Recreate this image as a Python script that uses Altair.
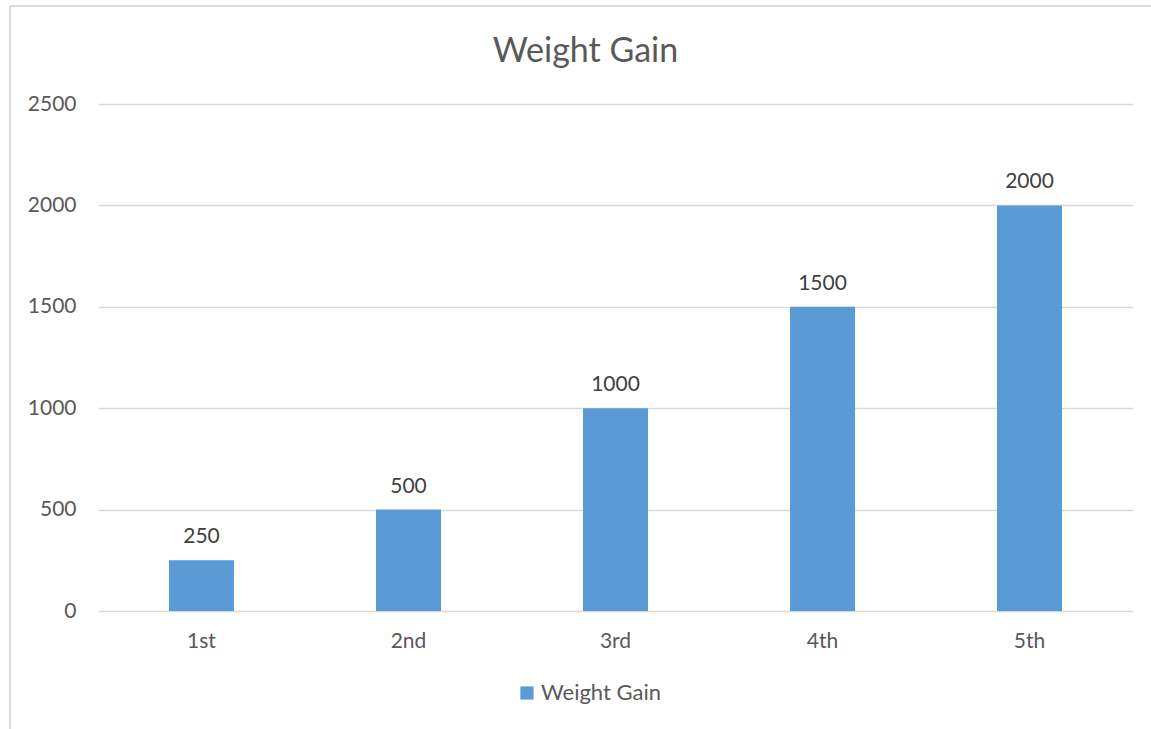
import altair as alt
import pandas as pd

categories = ["1st", "2nd", "3rd", "4th", "5th"]
values = [250, 500, 1000, 1500, 2000]
series_name = "Weight Gain"
y_ticks = [0, 500, 1000, 1500, 2000, 2500]

df = pd.DataFrame({"cat": categories, "val": values, "series": [series_name] * len(values)})

FONT = "Lato"
GREY = "#595959"
BLUE = "#5b9bd5"

base = alt.Chart(df)

bars = base.mark_bar(color=BLUE).encode(
    x=alt.X("cat:N", sort=categories, title=None,
            scale=alt.Scale(paddingInner=0.686, paddingOuter=0.343),
            axis=alt.Axis(labelAngle=0, labelFont=FONT, labelFontSize=21, labelColor=GREY,
                          labelPadding=19, ticks=False, domain=False, grid=False)),
    y=alt.Y("val:Q", title=None,
            scale=alt.Scale(domain=[0, 2500], nice=False),
            axis=alt.Axis(values=y_ticks, format="d", labelFont=FONT, labelFontSize=21,
                          labelColor=GREY, labelPadding=22, ticks=False, domain=False, grid=True,
                          gridColor="#d9d9d9", gridWidth=1.3)),
    color=alt.Color("series:N", scale=alt.Scale(range=[BLUE]),
                    legend=alt.Legend(title=None, orient="none", legendX=418, legendY=578,
                                      symbolType="square", symbolSize=175, symbolStrokeWidth=0,
                                      labelFont=FONT, labelFontSize=22, labelColor=GREY,
                                      labelOffset=3)),
)

labels = base.mark_text(font=FONT, fontSize=21, color="#404040", dy=-13, baseline="bottom").encode(
    x=alt.X("cat:N", sort=categories),
    y="val:Q",
    text=alt.Text("val:Q"),
)

frame_left = base.mark_rule(color="#d9d9d9", strokeWidth=1.5).encode(
    x=alt.value(-88), y=alt.value(-98), y2=alt.value(700)
)
frame_top = base.mark_rule(color="#d9d9d9", strokeWidth=1.5).encode(
    x=alt.value(-88), x2=alt.value(1100), y=alt.value(-98)
)

chart = alt.layer(frame_left, frame_top, bars, labels).properties(
    width=1035, height=507,
    title=alt.TitleParams(series_name, font=FONT, fontSize=34, fontWeight="normal",
                          color=GREY, frame="group", baseline="alphabetic",
                          offset=-91, dx=-30),
    autosize=alt.AutoSizeParams(type="none"),
    padding={"left": 98, "top": 104, "right": 18, "bottom": 118},
    background="white",
).configure_view(stroke=None)

chart.save("out.html", embed_options={"renderer": "svg", "actions": False})
